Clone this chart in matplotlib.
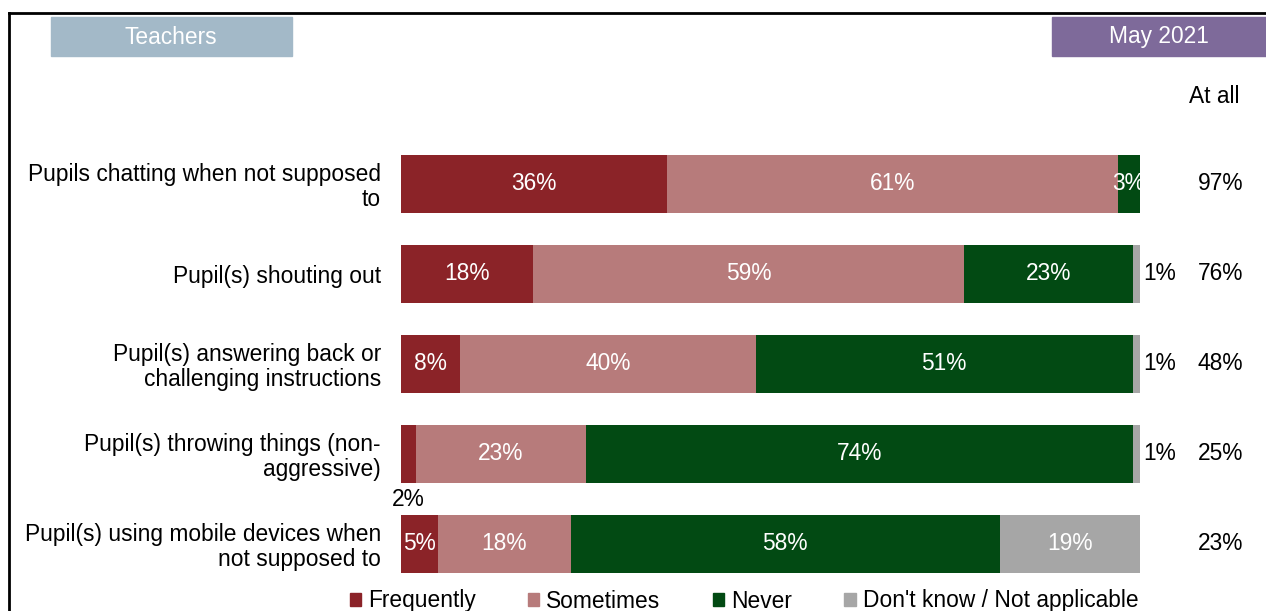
import matplotlib
matplotlib.use("Agg")
import matplotlib.pyplot as plt
from matplotlib.patches import Patch, Rectangle
from matplotlib.lines import Line2D

plt.rcParams["font.family"] = ["Liberation Sans", "DejaVu Sans"]

categories = [
    "Pupils chatting when not supposed\nto",
    "Pupil(s) shouting out",
    "Pupil(s) answering back or\nchallenging instructions",
    "Pupil(s) throwing things (non-\naggressive)",
    "Pupil(s) using mobile devices when\nnot supposed to",
]
series = ["Frequently", "Sometimes", "Never", "Don't know / Not applicable"]
frequently = [36, 18, 8, 2, 5]
sometimes = [61, 59, 40, 23, 18]
never = [3, 23, 51, 74, 58]
dont_know = [0, 1, 1, 1, 19]
at_all = [97, 76, 48, 25, 23]
colors = ["#8B2328", "#B77B7B", "#024A13", "#A6A6A6"]

W, H = 1266, 611
FS = 16.4

fig = plt.figure(figsize=(W / 100, H / 100), dpi=100)
ax = fig.add_axes([401 / W, 22 / H, 739 / W, 450 / H])

rows = list(zip(frequently, sometimes, never, dont_know))
ypos = range(len(categories))
lefts = [0.0] * len(categories)
for si, name in enumerate(series):
    for ri, row in enumerate(rows):
        total = sum(row)
        val = row[si]
        if val == 0:
            continue
        w = val / total * 100
        ax.barh(ri, w, left=lefts[ri], height=0.645, color=colors[si])
        cx = lefts[ri] + w / 2
        label = f"{val}%"
        if si == 3 and val <= 2:
            ax.text(100.4, ri, label, ha="left", va="center", fontsize=FS, color="black", clip_on=False)
        elif si == 0 and val <= 2:
            ax.text(cx, ri + 0.5, label, ha="center", va="center", fontsize=FS, color="black", clip_on=False)
        else:
            ax.text(cx, ri, label, ha="center", va="center", fontsize=FS, color="white", clip_on=False)
        lefts[ri] += w

for ri, v in enumerate(at_all):
    ax.text(110.9, ri, f"{v}%", ha="center", va="center", fontsize=FS, clip_on=False)
ax.text(110.1, -0.97, "At all", ha="center", va="center", fontsize=FS, clip_on=False)

ax.set_xlim(0, 100)
ax.set_ylim(len(categories) - 0.5, -0.5)
ax.set_yticks(list(ypos))
ax.set_yticklabels(categories, fontsize=FS, linespacing=1.1)
for lbl in ax.get_yticklabels():
    lbl.set_multialignment("right")
ax.tick_params(axis="y", length=0, pad=14.4)
ax.set_xticks([])
for s in ax.spines.values():
    s.set_visible(False)

# frame
fig.add_artist(Line2D([9 / W, 1.0], [1 - 13 / H, 1 - 13 / H], color="black", lw=2))
fig.add_artist(Line2D([9 / W, 9 / W], [1 - 13 / H, 0], color="black", lw=2))

# header boxes
fig.add_artist(Rectangle((51 / W, 1 - 56 / H), 241 / W, 39 / H, color="#A3B9C8", transform=fig.transFigure))
fig.text(171 / W, 1 - 37 / H, "Teachers", ha="center", va="center", fontsize=FS, color="white")
fig.add_artist(Rectangle((1052 / W, 1 - 56 / H), 214 / W, 39 / H, color="#7E6A9A", transform=fig.transFigure))
fig.text(1159 / W, 1 - 37 / H, "May 2021", ha="center", va="center", fontsize=FS, color="white")

handles = [Patch(color=c, label=n) for c, n in zip(colors, series)]
fig.legend(handles=handles, loc="center", bbox_to_anchor=(744 / W, 1 - 601 / H), ncol=4,
           frameon=False, fontsize=FS, handlelength=0.5, handleheight=0.5,
           handletextpad=0.3, columnspacing=2.3, borderpad=0)

fig.savefig("out.png", dpi=100)
